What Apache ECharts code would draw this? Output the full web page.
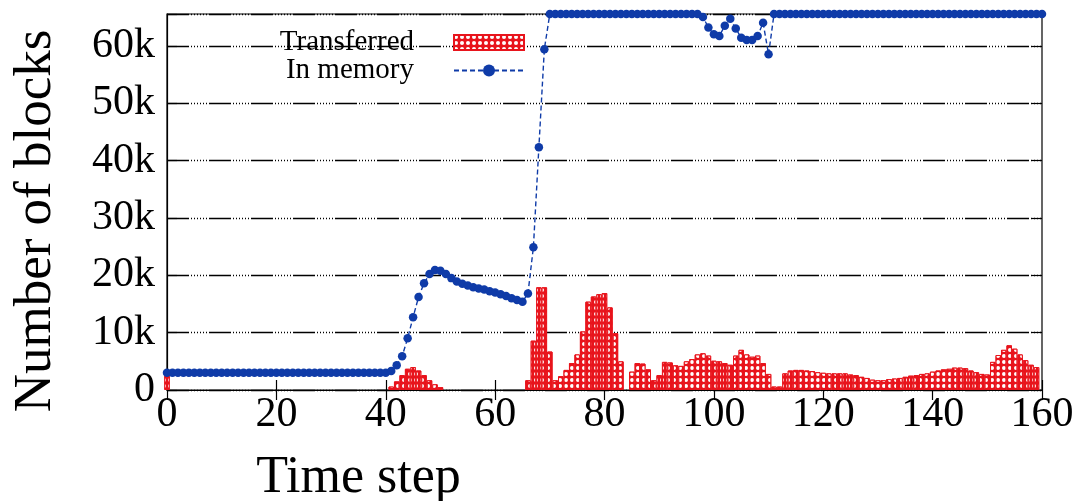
<!DOCTYPE html>
<html><head><meta charset="utf-8">
<script src="https://cdn.jsdelivr.net/npm/echarts@6/dist/echarts.min.js"></script>
<style>html,body{margin:0;padding:0;background:#fff}#c{width:1088px;height:501px}</style>
</head><body><div id="c"></div>
<script>
// time steps 0..160 (category labels)
const steps = Array.from({length: 161}, (_, i) => String(i));
const xTickLabels = ['0', '20', '40', '60', '80', '100', '120', '140', '160'];
const yTickLabels = ['0', '10k', '20k', '30k', '40k', '50k', '60k'];
const seriesNames = ['Transferred', 'In memory'];

// blocks transferred at each time step (0..160)
const transferred = [
  2500, 0, 0, 0, 0, 0, 0, 0, 0, 0,
  0, 0, 0, 0, 0, 0, 0, 0, 0, 0,
  0, 0, 0, 0, 0, 0, 0, 0, 0, 0,
  0, 0, 0, 0, 0, 0, 0, 0, 0, 0,
  0, 600, 1500, 2600, 3700, 4000, 3400, 2600, 1700, 1000,
  500, 0, 0, 0, 0, 0, 0, 0, 0, 0,
  0, 0, 0, 0, 0, 0, 1700, 8600, 17900, 17900,
  6700, 1700, 2400, 3500, 4700, 6200, 10200, 15400, 16300, 16700,
  16900, 14400, 9900, 5000, 0, 3200, 4700, 4600, 3600, 1700,
  2600, 4900, 4800, 4300, 4200, 5000, 5400, 6200, 6400, 6000,
  5100, 5000, 4700, 4400, 6000, 7000, 6200, 5800, 6000, 4700,
  2800, 600, 600, 2900, 3400, 3500, 3500, 3400, 3300, 3100,
  3000, 2900, 2900, 2900, 2900, 2700, 2600, 2300, 2100, 1800,
  1700, 1700, 1900, 2000, 2100, 2300, 2500, 2600, 2800, 2900,
  3200, 3400, 3600, 3700, 3900, 3900, 3800, 3400, 3100, 2800,
  2700, 4900, 6100, 7000, 7800, 7200, 6200, 5200, 4400, 4000,
  0
];

// blocks in memory at each time step (0..160)
const inMemory = [
  3000, 3000, 3000, 3000, 3000, 3000, 3000, 3000, 3000, 3000,
  3000, 3000, 3000, 3000, 3000, 3000, 3000, 3000, 3000, 3000,
  3000, 3000, 3000, 3000, 3000, 3000, 3000, 3000, 3000, 3000,
  3000, 3000, 3000, 3000, 3000, 3000, 3000, 3000, 3000, 3000,
  3000, 3300, 4300, 5900, 9000, 12700, 16200, 18600, 20200, 20900,
  20800, 20200, 19500, 18900, 18500, 18200, 17900, 17700, 17500, 17200,
  17000, 16700, 16400, 16000, 15700, 15400, 16800, 24900, 42300, 59400,
  65536, 65536, 65536, 65536, 65536, 65536, 65536, 65536, 65536, 65536,
  65536, 65536, 65536, 65536, 65536, 65536, 65536, 65536, 65536, 65536,
  65536, 65536, 65536, 65536, 65536, 65536, 65536, 65536, 65000, 63200,
  62000, 61700, 63500, 64700, 63000, 61400, 61000, 61000, 61700, 64000,
  58500, 65536, 65536, 65536, 65536, 65536, 65536, 65536, 65536, 65536,
  65536, 65536, 65536, 65536, 65536, 65536, 65536, 65536, 65536, 65536,
  65536, 65536, 65536, 65536, 65536, 65536, 65536, 65536, 65536, 65536,
  65536, 65536, 65536, 65536, 65536, 65536, 65536, 65536, 65536, 65536,
  65536, 65536, 65536, 65536, 65536, 65536, 65536, 65536, 65536, 65536,
  65536
];

const FONT = 'Liberation Serif';
const RED = '#e8141c';
const BLUE = '#0f3ba8';
const gridDash = [22, 2, 1, 2, 1, 2, 1, 2, 1, 2, 1, 2, 1, 2];

// zero-height bars are left empty so no outline is drawn on the axis
const barData = transferred.map((v) => (v === 0 ? null : v));

const chart = echarts.init(document.getElementById('c'), null, {renderer: 'canvas'});
chart.setOption({
  animation: false,
  backgroundColor: '#fff',
  textStyle: {fontFamily: FONT, color: '#000'},
  grid: {left: 167, right: 46, top: 14, bottom: 111, show: true, borderColor: '#000', borderWidth: 1.2, outerBoundsMode: 'none'},
  legend: [
    {data: [{name: seriesNames[0], icon: 'rect'}], right: 563, top: 28, padding: 0, align: 'right', itemWidth: 70, itemHeight: 15,
     textStyle: {fontFamily: FONT, fontSize: 29, color: '#000', padding: [0, 35, 0, 0]}},
    {data: [seriesNames[1]], right: 563, top: 56, padding: 0, align: 'right', itemWidth: 70, itemHeight: 15,
     textStyle: {fontFamily: FONT, fontSize: 29, color: '#000', padding: [0, 35, 0, 0]}}
  ],
  xAxis: [
    {type: 'category', data: steps, boundaryGap: false,
     name: 'Time step', nameLocation: 'middle', nameGap: 62,
     nameTextStyle: {fontFamily: FONT, fontSize: 52, color: '#000', padding: [0, 492, 0, 0]},
     axisLine: {show: true, lineStyle: {color: '#000', width: 1.2}},
     axisTick: {show: true, inside: true, length: 10, lineStyle: {color: '#000', width: 1.2},
                interval: (i) => i % 20 === 0},
     axisLabel: {show: true, margin: 4, fontFamily: FONT, fontSize: 42, color: '#000',
                 interval: (i) => i % 20 === 0,
                 formatter: (v) => xTickLabels[Number(v) / 20]},
     splitLine: {show: false}},
    {type: 'category', data: steps, boundaryGap: false, position: 'top',
     axisLine: {show: false},
     axisTick: {show: true, inside: true, length: 10, lineStyle: {color: '#000', width: 1.2},
                interval: (i) => i % 20 === 0},
     axisLabel: {show: false}, splitLine: {show: false}}
  ],
  yAxis: [
    {type: 'value', min: 0, max: 65536, interval: 10000,
     name: 'Number of blocks', nameLocation: 'middle', nameGap: 104,
     nameTextStyle: {fontFamily: FONT, fontSize: 53, color: '#000', padding: [0, 38, 0, 0]},
     axisLine: {show: true, lineStyle: {color: '#000', width: 1.2}},
     axisTick: {show: true, inside: true, length: 10, lineStyle: {color: '#000', width: 1.2}},
     axisLabel: {margin: 12, fontFamily: FONT, fontSize: 42, color: '#000',
                 formatter: (v) => (v % 10000 === 0 ? yTickLabels[v / 10000] : '')},
     splitLine: {show: true, lineStyle: {color: '#000', width: 1.4, type: gridDash}}},
    {type: 'value', min: 0, max: 65536, interval: 10000, position: 'right',
     axisLine: {show: false},
     axisTick: {show: true, inside: true, length: 10, lineStyle: {color: '#000', width: 1.2}},
     axisLabel: {show: false}, splitLine: {show: false}}
  ],
  series: [
    {name: seriesNames[0], type: 'bar', data: barData, barCategoryGap: '0%', z: 2,
     itemStyle: {color: RED, borderColor: RED, borderWidth: 1,
                 decal: {symbol: 'circle', symbolSize: 1, color: '#ffffff',
                         dashArrayX: [3.5, 1.8], dashArrayY: [3.5, 1.8], rotation: 0}}},
    {name: seriesNames[1], type: 'line', data: inMemory, z: 3,
     symbol: 'circle', symbolSize: 8.5, showAllSymbol: true,
     lineStyle: {color: BLUE, width: 1.4, type: [5, 3]},
     itemStyle: {color: BLUE}}
  ]
});
</script></body></html>
